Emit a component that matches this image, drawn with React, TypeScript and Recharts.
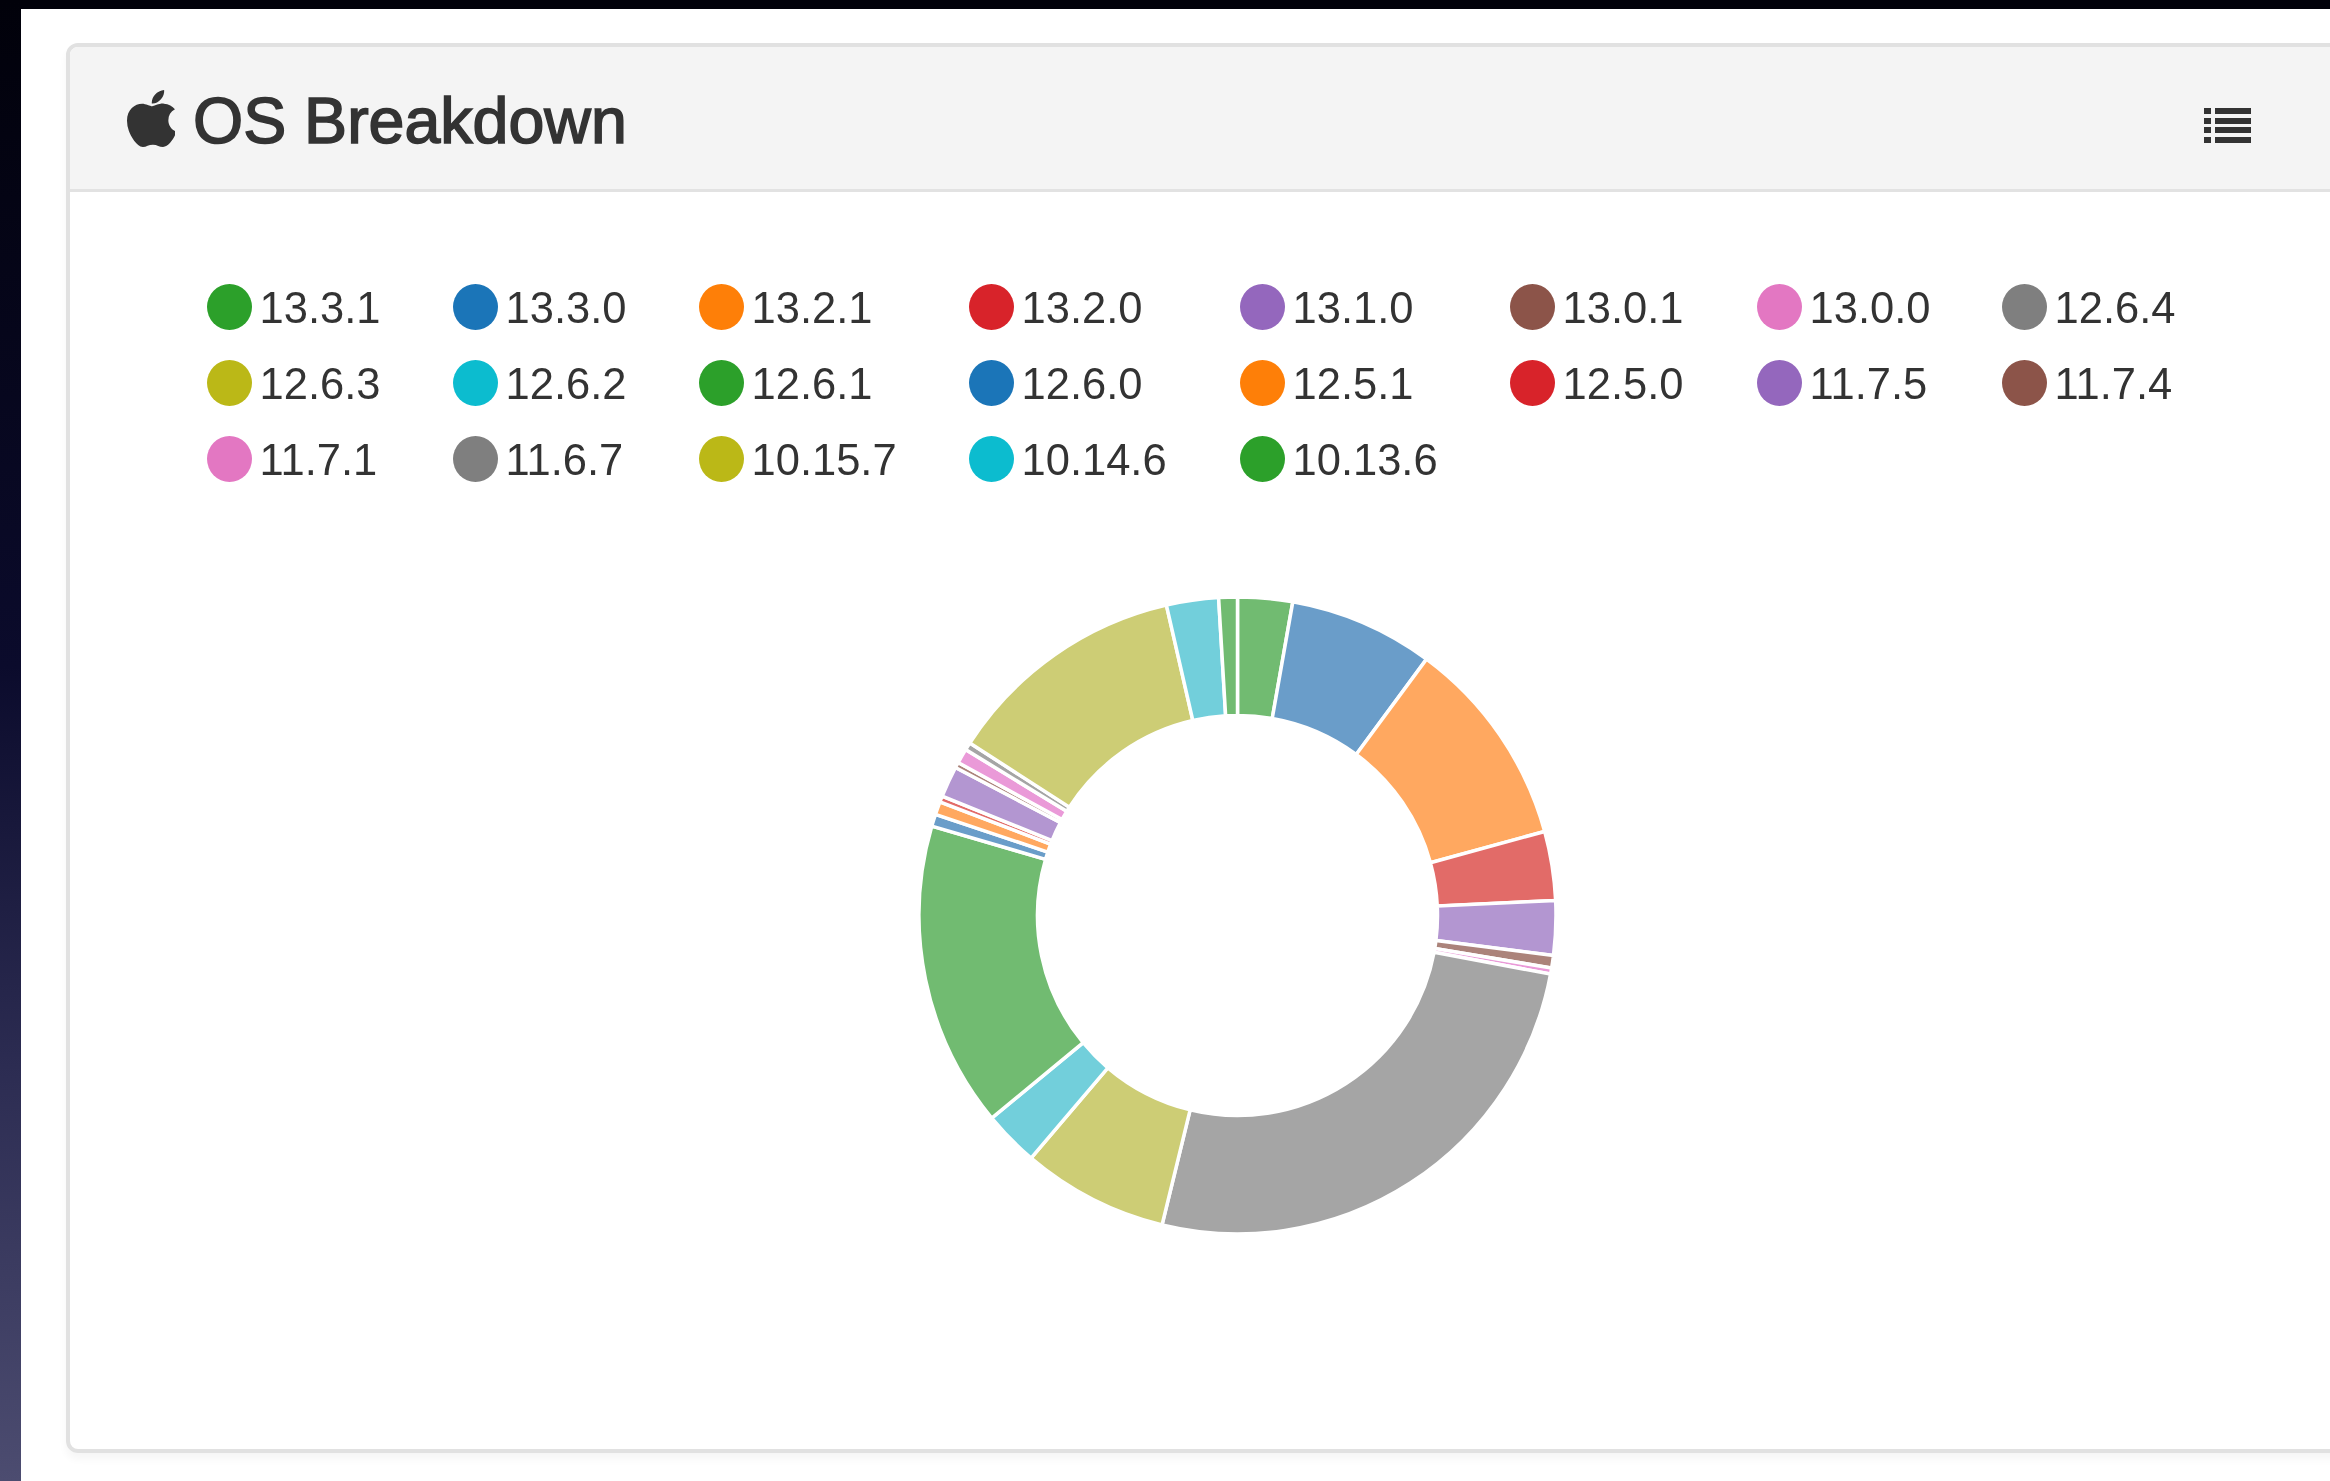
import React from 'react';
import { PieChart, Pie, Cell, Legend } from 'recharts';

const versions = [
  '13.3.1', '13.3.0', '13.2.1', '13.2.0', '13.1.0', '13.0.1', '13.0.0',
  '12.6.4', '12.6.3', '12.6.2', '12.6.1', '12.6.0', '12.5.1', '12.5.0',
  '11.7.5', '11.7.4', '11.7.1', '11.6.7', '10.15.7', '10.14.6', '10.13.6',
];
const shares = [
  10, 26.4, 38.3, 12.6, 9.9, 2.3, 1.1,
  93.1, 26.7, 10.1, 55.8, 2.2, 2.4, 1.1,
  5.7, 1.0, 2.7, 1.4, 44.3, 9.5, 3.4,
];
const legendPalette = [
  '#2ca02a', '#1b75b8', '#fe7f08', '#d8232a', '#9467bd', '#8c5449', '#e377c2', '#7f7f7f', '#bbb817', '#0cbccf',
];
const slicePalette = [
  '#71bb71', '#6a9dc9', '#ffa860', '#e26b68', '#b396d1', '#ab837a', '#ea9ad8', '#a5a5a5', '#cdcd75', '#72cfdb',
];

const pieData = versions.map((name, i) => ({ name, value: shares[i] }));

const FONT = '"Liberation Sans", Arial, sans-serif';
const APPLE_PATH =
  'M318.7 268.7c-.2-36.7 16.4-64.4 50-84.8-18.8-26.9-47.2-41.7-84.7-44.6-35.5-2.8-74.3 20.7-88.5 20.7-15 0-49.4-19.7-76.4-19.7C63.3 141.2 4 184.8 4 273.5q0 39.3 14.4 81.2c12.8 36.7 59 126.7 107.2 125.2 25.2-.6 43-17.9 75.8-17.9 31.8 0 48.3 17.9 76.4 17.9 48.6-.7 90.4-82.5 102.6-119.3-65.2-30.7-61.7-90-61.7-91.9zm-56.6-164.2c27.3-32.4 24.8-61.9 24-72.5-24.1 1.4-52 16.4-67.9 34.9-17.5 19.8-27.8 44.3-25.6 71.9 26.1 2 49.9-11.4 69.5-34.3z';

function VersionLegend() {
  return (
    <div
      style={{
        display: 'grid',
        gridTemplateColumns: '246px 246px 270px 271px 270px 247px 245px 200px',
        gridAutoRows: '76px',
        fontFamily: FONT,
        fontSize: 43.5,
        color: '#333',
      }}
    >
      {versions.map((name, i) => (
        <div key={name} style={{ display: 'flex', alignItems: 'center', height: 46 }}>
          <span
            style={{
              width: 45,
              height: 46,
              borderRadius: '50%',
              background: legendPalette[i % legendPalette.length],
              marginRight: 8,
              flex: 'none',
            }}
          />
          <span style={{ position: 'relative', top: 1 }}>{name}</span>
        </div>
      ))}
    </div>
  );
}

function ListIcon() {
  return (
    <svg width={48} height={38} viewBox="0 0 48 38" style={{ position: 'absolute', left: 2204, top: 107 }}>
      {[1, 11, 20, 30].map((y) => (
        <g key={y} fill="#333">
          <rect x={0} y={y} width={7} height={6} />
          <rect x={11} y={y} width={36} height={6} />
        </g>
      ))}
    </svg>
  );
}

export default function App() {
  return (
    <div
      style={{
        position: 'absolute',
        left: 0,
        top: 0,
        width: 2330,
        height: 1481,
        overflow: 'hidden',
        background: '#fff',
        filter: 'blur(0.6px)',
      }}
    >
      <div style={{ position: 'absolute', left: 0, top: 0, width: 2330, height: 9, background: '#01010a' }} />
      <div
        style={{
          position: 'absolute',
          left: 0,
          top: 0,
          width: 21,
          height: 1481,
          background: 'linear-gradient(#01010a 0%, #0b0b2c 45%, #2c2c52 72%, #4c4c70 100%)',
        }}
      />
      <div
        style={{
          position: 'absolute',
          left: 66,
          top: 43,
          width: 2300,
          height: 1410,
          boxSizing: 'border-box',
          border: '4px solid #e1e1e1',
          borderRadius: 12,
          boxShadow: '0 6px 8px rgba(0,0,0,0.04)',
          overflow: 'hidden',
        }}
      >
        <div style={{ height: 142, background: '#f4f4f4', borderBottom: '3px solid #e2e2e2' }} />
      </div>

      <svg width={48} height={57} viewBox="4 32 365 448" preserveAspectRatio="none" style={{ position: 'absolute', left: 127, top: 90 }}>
        <path d={APPLE_PATH} fill="#333" />
      </svg>
      <div
        style={{
          position: 'absolute',
          left: 193,
          top: 84,
          fontFamily: FONT,
          fontSize: 64.5,
          lineHeight: '74px',
          color: '#333',
          WebkitTextStroke: '1.6px #333',
          whiteSpace: 'nowrap',
        }}
      >
        OS Breakdown
      </div>
      <ListIcon />

      <div style={{ position: 'absolute', left: 0, top: 0 }}>
        <PieChart width={2330} height={1481} margin={{ top: 0, right: 0, bottom: 0, left: 0 }}>
          <Legend
            content={() => <VersionLegend />}
            wrapperStyle={{ position: 'absolute', left: 206.5, top: 284, width: 2100 }}
          />
          <Pie
            data={pieData}
            dataKey="value"
            nameKey="name"
            cx={1237.5}
            cy={915.5}
            innerRadius={200}
            outerRadius={318.5}
            startAngle={90}
            endAngle={-270}
            stroke="#fff"
            strokeWidth={3.5}
            isAnimationActive={false}
          >
            {pieData.map((d, i) => (
              <Cell key={d.name} fill={slicePalette[i % slicePalette.length]} />
            ))}
          </Pie>
        </PieChart>
      </div>
    </div>
  );
}
